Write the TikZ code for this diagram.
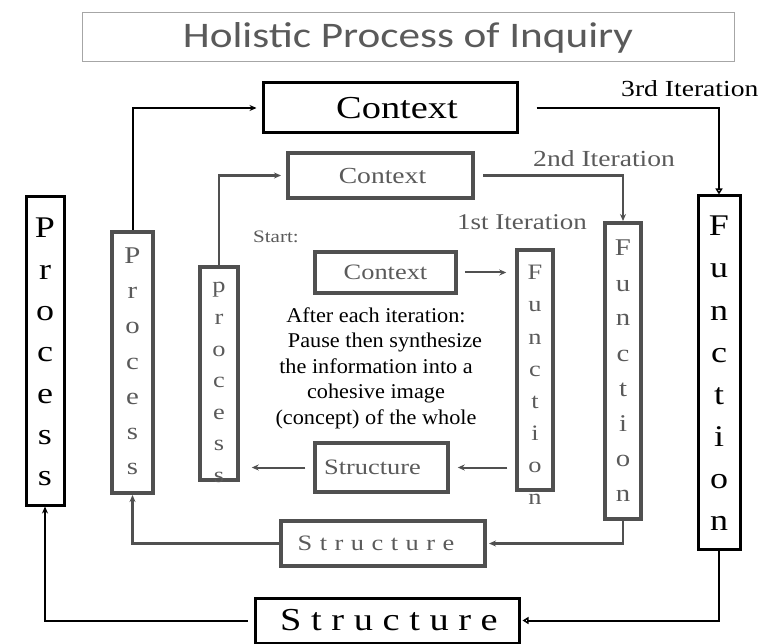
\documentclass[tikz,border=0pt]{standalone}
\usepackage{fontspec}
\setmainfont{Liberation Serif}[FakeStretch=1.2]
\newfontfamily\notefont{Liberation Serif}[FakeStretch=1.06]
\newfontfamily\titlefont{Carlito}[FakeStretch=1.2]
\usetikzlibrary{arrows.meta}

\definecolor{frameGray}{HTML}{505050}
\definecolor{textGray}{HTML}{5A5A5A}
\definecolor{titleLine}{HTML}{A6A6A6}

\newcommand{\fs}[1]{\fontsize{#1}{#1}\selectfont}

\begin{document}
\begin{tikzpicture}[x=1pt,y=-1pt,
  box/.style={draw, rectangle, inner sep=0pt, anchor=center},
  third/.style={box, draw=black, line width=3pt, text=black},
  second/.style={box, draw=frameGray, line width=4pt, text=textGray},
  first/.style={box, draw=frameGray, line width=3.5pt, text=textGray},
  link3/.style={draw=black, line width=2pt},
  link2/.style={draw=frameGray, line width=2.4pt},
  link1/.style={draw=frameGray, line width=2pt},
  tip/.style={-{Stealth[length=7pt,width=6pt]}},
  opentip/.style={-{Triangle[open,length=6pt,width=7pt,line width=1.6pt]}},
  letter/.style={anchor=base, inner sep=0pt},
]
\useasboundingbox (0,0) rectangle (779,644);

% title
\node[box, draw=titleLine, line width=1pt, minimum width=652pt, minimum height=49pt,
      text=textGray, font=\titlefont\fs{36}] (title) at (408,37.5) {Holistic Process of Inquiry};

% ---------- third iteration ----------
\node[third, minimum width=254pt, minimum height=50pt, font=\fs{32}] (c3) at (390,108) {\hspace*{14pt}Context};
\node[third, minimum width=42pt, minimum height=353pt] (f3) at (719,372.5) {};
\node[third, minimum width=264pt, minimum height=45pt, font=\fs{32}] (s3) at (387,620.5)
  {\hspace*{4pt}S\kern9.6pt t\kern9.6pt r\kern9.6pt u\kern9.6pt c\kern9.6pt t\kern9.6pt u\kern9.6pt r\kern9.6pt e};
\node[third, minimum width=38pt, minimum height=308pt] (p3) at (45,351) {};
\node[anchor=base west, font=\fs{23}, inner sep=0pt] (it3) at (621,97) {3rd Iteration};

\foreach \ch [count=\i] in {P,r,o,c,e,s,s}
  \node[letter, font=\fs{30}] (p3l\i) at (45,{238+(\i-1)*41.3}) {\ch};
\foreach \ch [count=\i] in {F,u,n,c,t,i,o,n}
  \node[letter, font=\fs{30}] (f3l\i) at (719,{236+(\i-1)*42}) {\ch};

% ---------- second iteration ----------
\node[second, minimum width=185pt, minimum height=45pt, font=\fs{23}] (c2) at (380.5,175.5) {\hspace*{4pt}Context};
\node[second, minimum width=36pt, minimum height=296pt] (f2) at (623,371) {};
\node[second, minimum width=204pt, minimum height=45pt, font=\fs{22}] (s2) at (383,543.5)
  {\hspace*{-14pt}S\kern7.5pt t\kern7.5pt r\kern7.5pt u\kern7.5pt c\kern7.5pt t\kern7.5pt u\kern7.5pt r\kern7.5pt e};
\node[second, minimum width=41pt, minimum height=261pt] (p2) at (132.5,362.5) {};
\node[anchor=base west, font=\fs{23}, text=textGray, inner sep=0pt] (it2) at (533,167) {2nd Iteration};

\foreach \ch [count=\i] in {P,r,o,c,e,s,s}
  \node[letter, font=\fs{24}, text=textGray] (p2l\i) at (132.5,{264+(\i-1)*35}) {\ch};
\foreach \ch [count=\i] in {F,u,n,c,t,i,o,n}
  \node[letter, font=\fs{24}, text=textGray] (f2l\i) at (623,{256+(\i-1)*35}) {\ch};

% ---------- first iteration ----------
\node[first, minimum width=141pt, minimum height=41pt, font=\fs{22}] (c1) at (385.5,272.5) {Context};
\node[first, minimum width=36pt, minimum height=240pt] (f1) at (535,370) {};
\node[first, minimum width=133pt, minimum height=49pt, font=\fs{22}] (s1) at (381.5,467.5) {\hspace*{-18pt}Structure};
\node[first, minimum width=38pt, minimum height=213pt] (p1) at (219,373.5) {};
\node[anchor=base west, font=\fs{22.5}, text=textGray, inner sep=0pt] (it1) at (457,230) {1st Iteration};
\node[anchor=base west, font=\fs{17.5}, text=textGray, inner sep=0pt] (start) at (253,243) {Start:};

\foreach \ch [count=\i] in {p,r,o,c,e,s,s}
  \node[letter, font=\fs{22}, text=textGray] (p1l\i) at (219,{293+(\i-1)*31.5}) {\ch};
\foreach \ch [count=\i] in {F,u,n,c,t,i,o,n}
  \node[letter, font=\fs{22}, text=textGray] (f1l\i) at (535,{280+(\i-1)*32}) {\ch};

% note in the middle
\node[align=center, font=\notefont\fontsize{21}{25.5}\selectfont, inner sep=0pt] (note) at (376,368)
  {After each iteration:\\ \hspace*{18pt}Pause then synthesize\\ the information into a\\ cohesive image\\ (concept) of the whole};

% ---------- connectors ----------
% third loop
\draw[link3, tip, shorten >=5pt] (p2.north) |- (c3.west);
\draw[link3, opentip, shorten <=18pt] (c3.east) -| (f3.north);
\draw[link3, opentip, shorten >=2pt] (f3.south) |- (s3.east);
\draw[link3, tip, shorten <=6pt] (s3.west) -| (p3.south);

% second loop
\draw[link2, tip, shorten >=5pt] (p1.north) |- (c2.west);
\draw[link2, tip, shorten <=8pt] (c2.east) -| (f2.north);
\draw[link2, tip, shorten >=2pt] (f2.south) |- (s2.east);
\draw[link2, tip] (s2.west) -| (p2.south);

% first loop
\draw[link1, tip, shorten <=7pt, shorten >=9pt] (c1.east) -- (c1.east -| f1.west);
\draw[link1, tip, shorten <=8pt, shorten >=8pt] (f1.west |- s1.east) -- (s1.east);
\draw[link1, tip, shorten <=8pt, shorten >=12pt] (s1.west) -- (s1.west -| p1.east);
\end{tikzpicture}
\end{document}
